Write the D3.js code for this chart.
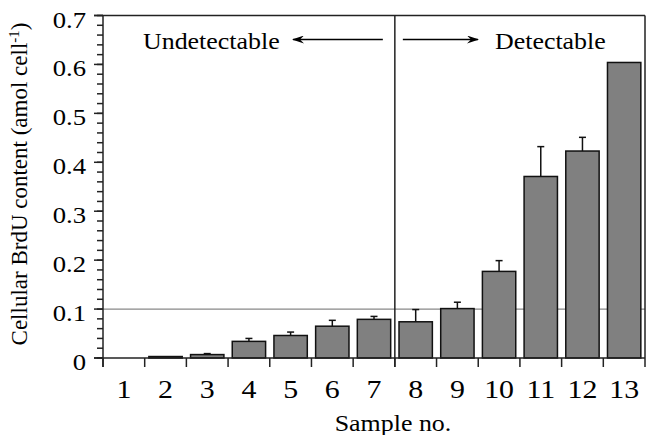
<!DOCTYPE html>
<html>
<head>
<meta charset="utf-8">
<script src="https://cdn.jsdelivr.net/npm/d3@7"></script>
<style>
  body { margin: 0; background: #fff; }
  text { font-family: "Liberation Serif", "Times New Roman", serif; fill: #000; }
</style>
</head>
<body>
<script>
// samples and measured BrdU content (mean, upper error)
const samples = ["1","2","3","4","5","6","7","8","9","10","11","12","13"];
const means = [0, 0.003, 0.007, 0.034, 0.046, 0.065, 0.079, 0.074, 0.101, 0.177, 0.371, 0.423, 0.604];
const errTops = [null, null, 0.009, 0.040, 0.053, 0.077, 0.085, 0.099, 0.114, 0.199, 0.432, 0.451, null];
const yTicks = [0, 0.1, 0.2, 0.3, 0.4, 0.5, 0.6, 0.7];
const yMinor = d3.range(0, 0.7001, 0.02);
const threshold = 0.1;
const splitAfter = "7";

let width = 646, height = 435;
let svg = d3.select("body").append("svg")
  .attr("width", width)
  .attr("height", height);

let mLeft = 103, mRight = 645, mTop = 15.5, mBottom = 358;

let x = d3.scaleBand()
  .domain(samples)
  .range([mLeft, mRight])
  .paddingInner(0.2)
  .paddingOuter(0.1);

let y = d3.scaleLinear()
  .domain([0, 0.7])
  .range([mBottom, mTop]);

// stretched text, the original figure is a bit wider than tall
function stext(g, tx, ty, str, size, sx, anchor) {
  return g.append("text")
    .attr("transform", "translate(" + tx + "," + ty + ") scale(" + sx + ",1)")
    .attr("font-size", size)
    .attr("text-anchor", anchor)
    .text(str);
}

// threshold line
svg.append("line")
  .attr("x1", mLeft).attr("x2", mRight)
  .attr("y1", y(threshold)).attr("y2", y(threshold))
  .attr("stroke", "#888").attr("stroke-width", 1.2);

// bars
svg.selectAll("rect.bar")
  .data(samples.map((s, i) => ({s: s, v: means[i]})).filter(d => d.v > 0))
  .enter().append("rect")
  .attr("class", "bar")
  .attr("x", d => x(d.s))
  .attr("y", d => y(d.v))
  .attr("width", x.bandwidth())
  .attr("height", d => y(0) - y(d.v))
  .attr("fill", "#808080")
  .attr("stroke", "#111")
  .attr("stroke-width", 1.5);

// error bars (upper only)
let errs = samples.map((s, i) => ({s: s, v: means[i], e: errTops[i]})).filter(d => d.e != null);
let eg = svg.append("g").attr("stroke", "#111").attr("stroke-width", 1.5);
errs.forEach(function(d) {
  let cx = x(d.s) + x.bandwidth() / 2;
  eg.append("line").attr("x1", cx).attr("x2", cx).attr("y1", y(d.v)).attr("y2", y(d.e));
  eg.append("line").attr("x1", cx - 3.5).attr("x2", cx + 3.5).attr("y1", y(d.e)).attr("y2", y(d.e));
});

// frame and axes
let ax = svg.append("g").attr("stroke", "#222").attr("stroke-width", 1.5).attr("fill", "none");
ax.append("line").attr("x1", mLeft).attr("x2", mLeft).attr("y1", mTop).attr("y2", mBottom + 9);
ax.append("line").attr("x1", mRight).attr("x2", mRight).attr("y1", mTop).attr("y2", mBottom + 9);
ax.append("line").attr("x1", mLeft - 9).attr("x2", mRight).attr("y1", mTop).attr("y2", mTop);
ax.append("line").attr("x1", mLeft - 9).attr("x2", mRight).attr("y1", mBottom).attr("y2", mBottom);

// y ticks
yMinor.forEach(function(v) {
  ax.append("line").attr("x1", mLeft - 6).attr("x2", mLeft).attr("y1", y(v)).attr("y2", y(v));
});
yTicks.forEach(function(v) {
  ax.append("line").attr("x1", mLeft - 9).attr("x2", mLeft).attr("y1", y(v)).attr("y2", y(v));
  stext(svg, 86, y(v) + 12, v === 0 ? "0" : d3.format(".1f")(v), 23, 1.16, "end");
});

// x ticks at category boundaries
samples.forEach(function(s, i) {
  let bx = mLeft + i * x.step();
  ax.append("line").attr("x1", bx).attr("x2", bx).attr("y1", mBottom).attr("y2", mBottom + 9);
  stext(svg, x(s) + x.bandwidth() / 2, 398, s, 26, 1.15, "middle");
});

// split line between undetectable and detectable
let splitX = x(splitAfter) + x.bandwidth() + x.step() * x.paddingInner() / 2;
ax.append("line").attr("x1", splitX).attr("x2", splitX).attr("y1", mTop).attr("y2", mBottom + 9);

// arrows
let defs = svg.append("defs");
defs.append("marker")
  .attr("id", "arrow")
  .attr("viewBox", "0 0 12 8")
  .attr("refX", 11).attr("refY", 4)
  .attr("markerWidth", 12).attr("markerHeight", 8)
  .attr("markerUnits", "userSpaceOnUse")
  .attr("orient", "auto")
  .append("path")
  .attr("d", "M0,0 L12,4 L0,8 L4,4 Z")
  .attr("fill", "#000");

let arrowY = 39.5;
svg.append("line")
  .attr("x1", splitX - 12).attr("x2", 293)
  .attr("y1", arrowY).attr("y2", arrowY)
  .attr("stroke", "#000").attr("stroke-width", 1.3)
  .attr("marker-end", "url(#arrow)");
svg.append("line")
  .attr("x1", splitX + 8).attr("x2", 478)
  .attr("y1", arrowY).attr("y2", arrowY)
  .attr("stroke", "#000").attr("stroke-width", 1.3)
  .attr("marker-end", "url(#arrow)");

stext(svg, 143, 49, "Undetectable", 24, 1.08, "start");
stext(svg, 495, 49, "Detectable", 24, 1.08, "start");

// axis titles
stext(svg, 393, 431, "Sample no.", 24, 1.08, "middle");

let yl = svg.append("text")
  .attr("transform", "translate(27,184) rotate(-90)")
  .attr("font-size", 23)
  .attr("text-anchor", "middle");
yl.append("tspan").text("Cellular BrdU content (amol cell");
yl.append("tspan").attr("font-size", 15).attr("dy", -8).text("-1");
yl.append("tspan").attr("dy", 8).text(")");
</script>
</body>
</html>
